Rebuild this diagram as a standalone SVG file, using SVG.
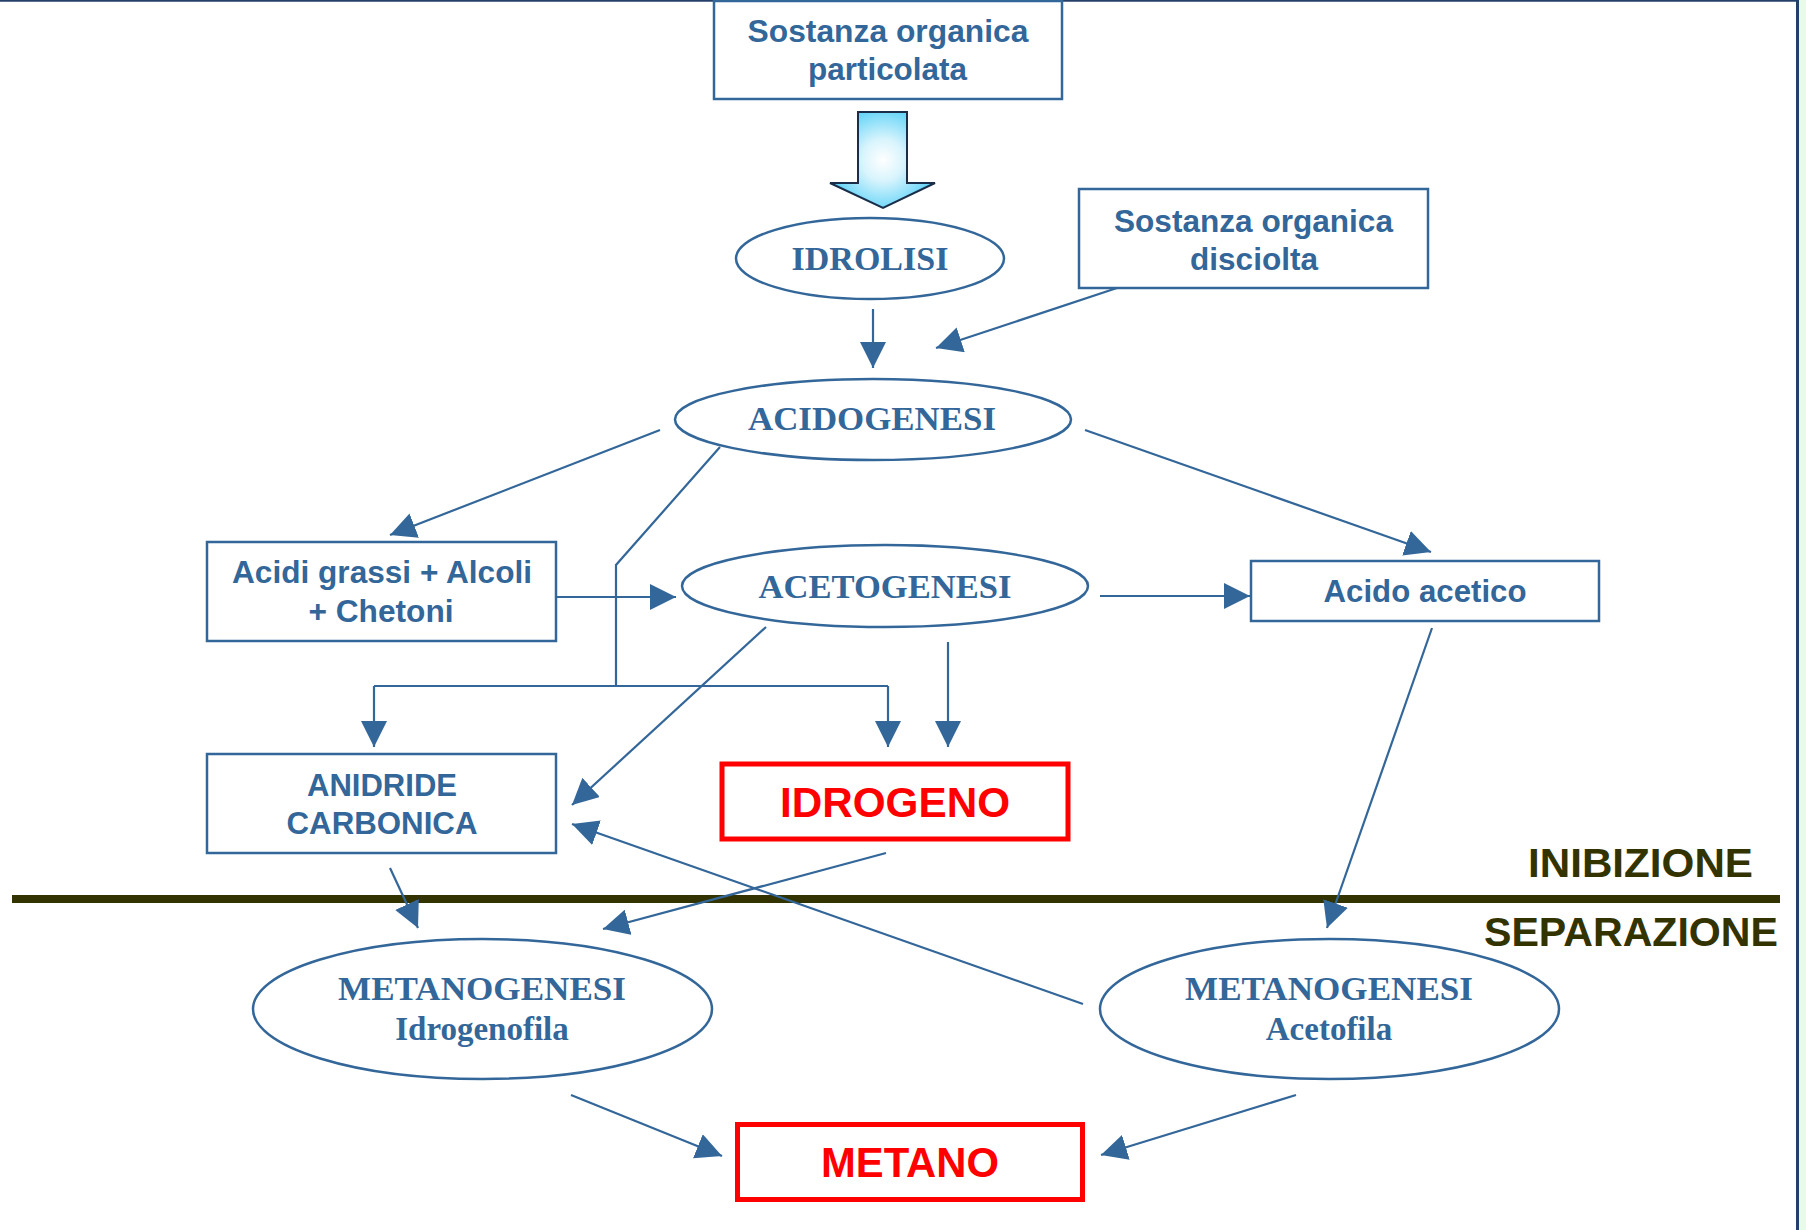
<svg xmlns="http://www.w3.org/2000/svg" width="1806" height="1230" viewBox="0 0 1806 1230">
<style>
.box{fill:#fff;stroke:#336699;stroke-width:2.5}
.red{fill:#fff;stroke:#ff0000;stroke-width:5}
.ell{fill:#fff;stroke:#336699;stroke-width:2.5}
.sans{font-family:"Liberation Sans",Arial,sans-serif;font-weight:bold;fill:#336699;font-size:31px;text-anchor:middle}
.serif{font-family:"Liberation Serif","Times New Roman",serif;font-weight:bold;fill:#336699;font-size:34px;text-anchor:middle}
.redt{font-family:"Liberation Sans",Arial,sans-serif;font-weight:bold;fill:#ff0000;font-size:42px;text-anchor:middle}
.side{font-family:"Liberation Sans",Arial,sans-serif;font-weight:bold;fill:#333300;font-size:40px}
.con line,.con polyline{stroke:#336699;stroke-width:2.2;fill:none}
.arr{marker-end:url(#ah)}
</style>
<defs>
<marker id="ah" markerUnits="userSpaceOnUse" markerWidth="27" markerHeight="26" refX="26" refY="13" orient="auto">
<path d="M0,0 L26,13 L0,26 z" fill="#336699"/>
</marker>
<radialGradient id="bg" gradientUnits="userSpaceOnUse" cx="883" cy="160" r="60">
<stop offset="0" stop-color="#ffffff"/>
<stop offset="0.35" stop-color="#d8f4fd"/>
<stop offset="1" stop-color="#45ccf6"/>
</radialGradient>
</defs>
<rect x="0" y="0" width="1806" height="1230" fill="#fff"/>
<rect x="1799" y="0" width="7" height="1230" fill="#e8fae8"/>
<line x1="0" y1="0.8" x2="1799" y2="0.8" stroke="#24406a" stroke-width="1.8"/>
<line x1="1797.5" y1="0" x2="1797.5" y2="1230" stroke="#24406a" stroke-width="3"/>

<g id="n_particolata">
<rect class="box" x="714" y="1" width="348" height="98"/>
<text class="sans" x="888" y="42" textLength="281" lengthAdjust="spacingAndGlyphs">Sostanza organica</text>
<text class="sans" x="887.5" y="80" textLength="159" lengthAdjust="spacingAndGlyphs">particolata</text>
</g>
<g id="block_arrow">
<polygon points="858,112 907,112 907,183 935,183 883,208 830,183 858,183" fill="url(#bg)" stroke="#1a2e4a" stroke-width="2"/>
</g>
<g id="n_idrolisi">
<ellipse class="ell" cx="870" cy="258.5" rx="134" ry="40.5"/>
<text class="serif" x="870" y="270">IDROLISI</text>
</g>
<g id="n_disciolta">
<rect class="box" x="1079" y="189" width="349" height="99"/>
<text class="sans" x="1253.5" y="232" textLength="279" lengthAdjust="spacingAndGlyphs">Sostanza organica</text>
<text class="sans" x="1254" y="270" textLength="128" lengthAdjust="spacingAndGlyphs">disciolta</text>
</g>
<g id="n_acidogenesi">
<ellipse class="ell" cx="873" cy="419.5" rx="198" ry="40.5"/>
<text class="serif" x="872" y="430" textLength="248" lengthAdjust="spacingAndGlyphs">ACIDOGENESI</text>
</g>
<g id="n_acidi">
<rect class="box" x="207" y="542" width="349" height="99"/>
<text class="sans" x="382" y="583" textLength="300" lengthAdjust="spacingAndGlyphs">Acidi grassi + Alcoli</text>
<text class="sans" x="381" y="622" textLength="145" lengthAdjust="spacingAndGlyphs">+ Chetoni</text>
</g>
<g id="n_acetogenesi">
<ellipse class="ell" cx="885" cy="586" rx="203" ry="41"/>
<text class="serif" x="885" y="598" textLength="253" lengthAdjust="spacingAndGlyphs">ACETOGENESI</text>
</g>
<g id="n_acetico">
<rect class="box" x="1251" y="561" width="348" height="60"/>
<text class="sans" x="1425" y="602" textLength="203" lengthAdjust="spacingAndGlyphs">Acido acetico</text>
</g>
<g id="n_anidride">
<rect class="box" x="207" y="754" width="349" height="99"/>
<text class="sans" x="382" y="796" textLength="150" lengthAdjust="spacingAndGlyphs">ANIDRIDE</text>
<text class="sans" x="382" y="834" textLength="191" lengthAdjust="spacingAndGlyphs">CARBONICA</text>
</g>
<g id="n_idrogeno">
<rect class="red" x="722" y="764" width="346" height="75"/>
<text class="redt" x="895" y="817" textLength="230" lengthAdjust="spacingAndGlyphs">IDROGENO</text>
</g>
<g id="separator">
<line x1="12" y1="899" x2="1780" y2="899" stroke="#333300" stroke-width="8"/>
<text class="side" x="1528" y="877" textLength="225" lengthAdjust="spacingAndGlyphs">INIBIZIONE</text>
<text class="side" x="1484" y="946" textLength="294" lengthAdjust="spacingAndGlyphs">SEPARAZIONE</text>
</g>
<g id="n_idrogenofila">
<ellipse class="ell" cx="482.5" cy="1009" rx="229.5" ry="70"/>
<text class="serif" x="482" y="1000" textLength="288" lengthAdjust="spacingAndGlyphs">METANOGENESI</text>
<text class="serif" x="482" y="1040" style="font-size:33px">Idrogenofila</text>
</g>
<g id="n_acetofila">
<ellipse class="ell" cx="1329.5" cy="1009" rx="229.5" ry="70"/>
<text class="serif" x="1329" y="1000" textLength="288" lengthAdjust="spacingAndGlyphs">METANOGENESI</text>
<text class="serif" x="1329" y="1040" style="font-size:33px">Acetofila</text>
</g>
<g id="n_metano">
<rect class="red" x="737.5" y="1124.5" width="345" height="75"/>
<text class="redt" x="910" y="1177" textLength="178" lengthAdjust="spacingAndGlyphs">METANO</text>
</g>

<g id="connectors" class="con">
<line class="arr" x1="873" y1="309" x2="873" y2="368"/>
<line class="arr" x1="1117" y1="288" x2="936" y2="348"/>
<line class="arr" x1="660" y1="430" x2="390" y2="535"/>
<line class="arr" x1="1085" y1="430" x2="1431" y2="552"/>
<polyline points="720,447 616,565 616,686"/>
<line x1="374" y1="686" x2="888" y2="686"/>
<line class="arr" x1="374" y1="686" x2="374" y2="747"/>
<line class="arr" x1="888" y1="686" x2="888" y2="747"/>
<line class="arr" x1="556" y1="597" x2="676" y2="597"/>
<line class="arr" x1="1100" y1="596" x2="1250" y2="596"/>
<line class="arr" x1="948" y1="642" x2="948" y2="747"/>
<line class="arr" x1="766" y1="627" x2="572" y2="805"/>
<line class="arr" x1="1083" y1="1004" x2="572" y2="824"/>
<line class="arr" x1="390" y1="868" x2="418" y2="928"/>
<line class="arr" x1="886" y1="853" x2="603" y2="929"/>
<line class="arr" x1="1432" y1="628" x2="1327" y2="928"/>
<line class="arr" x1="571" y1="1095" x2="722" y2="1156"/>
<line class="arr" x1="1296" y1="1095" x2="1101" y2="1155"/>
</g>
</svg>
